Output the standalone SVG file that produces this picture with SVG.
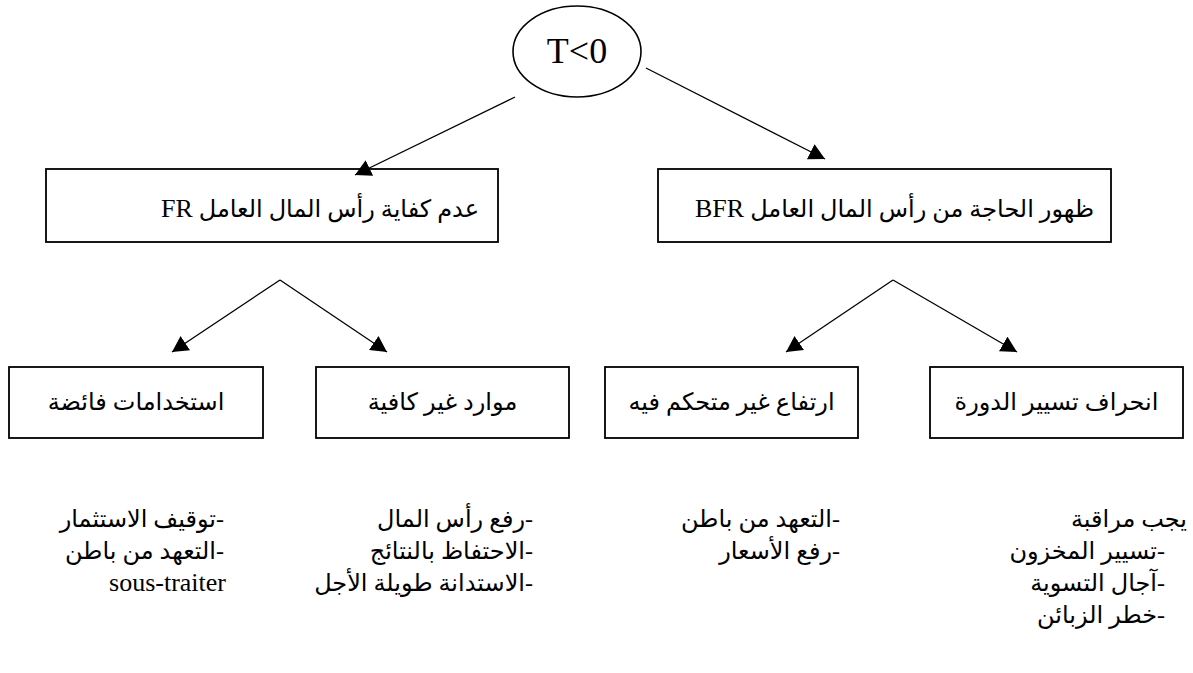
<svg xmlns="http://www.w3.org/2000/svg" width="1193" height="673" viewBox="0 0 1193 673">
  <defs>
    <style>
      .box { fill: #ffffff; stroke: #000000; stroke-width: 1.8; }
      .ell { fill: #ffffff; stroke: #000000; stroke-width: 1.6; }
      .conn { fill: none; stroke: #000000; stroke-width: 1.3; }
      .t { font-family: "Liberation Serif", "DejaVu Sans", serif; font-size: 24px; fill: #000000; }
      .lat { font-family: "Liberation Serif", serif; font-size: 26px; }
      .rtl { direction: rtl; unicode-bidi: embed; }
      .big { font-family: "Liberation Serif", serif; font-size: 36px; fill: #000000; }
    </style>
    <marker id="arr" markerUnits="userSpaceOnUse" markerWidth="17" markerHeight="17" refX="16" refY="8.5" orient="auto">
      <path d="M0,0 L16,8.5 L0,17 z" fill="#000000"/>
    </marker>
  </defs>
  <rect width="1193" height="673" fill="#ffffff"/>

  <g id="root">
    <ellipse class="ell" cx="577" cy="51.5" rx="64" ry="45.5"/>
    <text class="big" x="577" y="63" text-anchor="middle">T&lt;0</text>
  </g>

  <g id="fr">
    <rect class="box" x="46" y="169" width="452" height="73"/>
    <text class="t rtl" x="479" y="217" text-anchor="start">عدم كفاية رأس المال العامل <tspan class="lat">FR</tspan></text>
  </g>

  <g id="bfr">
    <rect class="box" x="658" y="169" width="453" height="73"/>
    <text class="t rtl" x="1094" y="217" text-anchor="start">ظهور الحاجة من رأس المال العامل <tspan class="lat">BFR</tspan></text>
  </g>

  <g id="usages">
    <rect class="box" x="9" y="367" width="254" height="71"/>
    <text class="t rtl" x="136" y="410" text-anchor="middle">استخدامات فائضة</text>
  </g>

  <g id="resources">
    <rect class="box" x="316" y="367" width="253" height="71"/>
    <text class="t rtl" x="442.5" y="410" text-anchor="middle">موارد غير كافية</text>
  </g>

  <g id="rise">
    <rect class="box" x="605" y="367" width="253" height="71"/>
    <text class="t rtl" x="731.5" y="410" text-anchor="middle">ارتفاع غير متحكم فيه</text>
  </g>

  <g id="deviation">
    <rect class="box" x="930" y="367" width="253" height="71"/>
    <text class="t rtl" x="1056.5" y="410" text-anchor="middle">انحراف تسيير الدورة</text>
  </g>

  <g id="col-usages">
    <text class="t rtl" x="224" y="527" text-anchor="start">-توقيف الاستثمار</text>
    <text class="t rtl" x="224" y="559" text-anchor="start">-التعهد من باطن</text>
    <text class="t lat" x="226" y="591" text-anchor="end">sous-traiter</text>
  </g>

  <g id="col-resources">
    <text class="t rtl" x="533" y="527" text-anchor="start">-رفع رأس المال</text>
    <text class="t rtl" x="533" y="559" text-anchor="start">-الاحتفاظ بالنتائج</text>
    <text class="t rtl" x="533" y="591" text-anchor="start">-الاستدانة طويلة الأجل</text>
  </g>

  <g id="col-rise">
    <text class="t rtl" x="840" y="527" text-anchor="start">-التعهد من باطن</text>
    <text class="t rtl" x="840" y="559" text-anchor="start">-رفع الأسعار</text>
  </g>

  <g id="col-deviation">
    <text class="t rtl" x="1187" y="527" text-anchor="start">يجب مراقبة</text>
    <text class="t rtl" x="1165" y="559" text-anchor="start">-تسيير المخزون</text>
    <text class="t rtl" x="1165" y="591" text-anchor="start">-آجال التسوية</text>
    <text class="t rtl" x="1165" y="623" text-anchor="start">-خطر الزبائن</text>
  </g>

  <g id="connectors">
    <line class="conn" x1="515" y1="97" x2="355" y2="175" marker-end="url(#arr)"/>
    <line class="conn" x1="646" y1="68" x2="825" y2="159" marker-end="url(#arr)"/>
    <line class="conn" x1="280" y1="280" x2="172" y2="352" marker-end="url(#arr)"/>
    <line class="conn" x1="280" y1="280" x2="387" y2="352" marker-end="url(#arr)"/>
    <line class="conn" x1="893" y1="280" x2="786" y2="352" marker-end="url(#arr)"/>
    <line class="conn" x1="893" y1="280" x2="1017" y2="352" marker-end="url(#arr)"/>
  </g>
</svg>
